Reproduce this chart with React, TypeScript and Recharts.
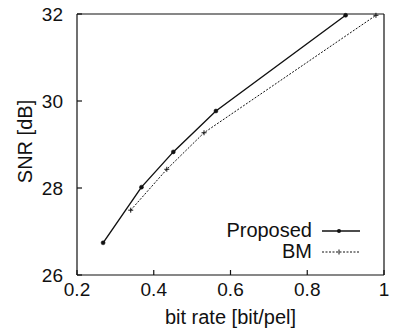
import { LineChart, Line, XAxis, YAxis, Legend } from "recharts";

const proposedRate = [0.268, 0.368, 0.451, 0.562, 0.9];
const proposedSnr = [26.74, 28.02, 28.83, 29.77, 31.97];
const bmRate = [0.34, 0.434, 0.531, 0.979];
const bmSnr = [27.49, 28.43, 29.27, 31.97];

const xTicks = [0.2, 0.4, 0.6, 0.8, 1];
const yTicks = [26, 28, 30, 32];
const seriesNames = ["Proposed", "BM"];

const ink = "#111";
const font = "'Liberation Sans', Arial, Helvetica, sans-serif";

const proposedData = proposedRate.map((rate, i) => ({ rate, snr: proposedSnr[i] }));
const bmData = bmRate.map((rate, i) => ({ rate, snr: bmSnr[i] }));

function fmtX(v: number): string {
  return v === 1 ? "1" : v.toFixed(1);
}

function PlusDot(props: any) {
  const { cx, cy } = props;
  if (cx == null || cy == null) return null;
  return (
    <g stroke={ink} strokeWidth={1}>
      <line x1={cx - 2.5} y1={cy} x2={cx + 2.5} y2={cy} />
      <line x1={cx} y1={cy - 2.5} x2={cx} y2={cy + 2.5} />
    </g>
  );
}

function KeyContent() {
  const row = { display: "flex", alignItems: "center", justifyContent: "flex-end", height: 21 } as const;
  return (
    <div style={{ fontFamily: font, fontSize: 20, color: ink, lineHeight: "21px" }}>
      <div style={row}>
        <span>{seriesNames[0]}</span>
        <svg width={38} height={10} style={{ marginLeft: 10 }}>
          <line x1={0} y1={5} x2={38} y2={5} stroke={ink} strokeWidth={1.4} />
          <circle cx={17} cy={5} r={2} fill={ink} />
        </svg>
      </div>
      <div style={row}>
        <span>{seriesNames[1]}</span>
        <svg width={38} height={10} style={{ marginLeft: 10 }}>
          <line x1={0} y1={5} x2={38} y2={5} stroke={ink} strokeWidth={1} strokeDasharray="2 1.5" />
          <line x1={17} y1={2.5} x2={17} y2={7.5} stroke={ink} strokeWidth={1} />
        </svg>
      </div>
    </div>
  );
}

export default function App() {
  const tickStyle = { fontSize: 19, fill: ink, fontFamily: font };
  return (
    <div style={{ position: "absolute", left: 0, top: 0, background: "#fff" }}>
      <LineChart width={394} height={328} margin={{ top: 0, right: 0, bottom: 0, left: 0 }}>
        <XAxis
          dataKey="rate"
          type="number"
          domain={[0.2, 1]}
          ticks={xTicks}
          tickFormatter={fmtX}
          height={53}
          tickSize={-5}
          tickMargin={13}
          tick={tickStyle}
          stroke={ink}
          strokeWidth={1.2}
          label={{
            value: "bit rate [bit/pel]",
            position: "insideBottom",
            offset: 4,
            style: { fontSize: 20, fill: ink, fontFamily: font },
          }}
        />
        <XAxis
          xAxisId="top"
          orientation="top"
          dataKey="rate"
          type="number"
          domain={[0.2, 1]}
          ticks={[0.4, 0.6, 0.8]}
          tickFormatter={() => ""}
          height={14}
          tickSize={-5}
          stroke={ink}
          strokeWidth={1.2}
        />
        <YAxis
          type="number"
          domain={[26, 32]}
          ticks={yTicks}
          width={77}
          tickSize={-5}
          tickMargin={19}
          tick={tickStyle}
          stroke={ink}
          strokeWidth={1.2}
          label={{
            value: "SNR [dB]",
            angle: -90,
            position: "center",
            dx: -14,
            dy: -3,
            style: { fontSize: 20, fill: ink, fontFamily: font },
          }}
        />
        <YAxis
          yAxisId="r"
          orientation="right"
          type="number"
          domain={[26, 32]}
          ticks={[28, 30]}
          tickFormatter={() => ""}
          width={10}
          tickSize={-5}
          stroke={ink}
          strokeWidth={1.2}
        />
        <Legend
          layout="vertical"
          align="center"
          verticalAlign="middle"
          wrapperStyle={{ top: 220, left: 150, width: 210 }}
          content={<KeyContent />}
        />
        <Line
          data={proposedData}
          dataKey="snr"
          name={seriesNames[0]}
          type="linear"
          stroke={ink}
          strokeWidth={1.4}
          dot={{ r: 2, fill: ink, stroke: ink, strokeWidth: 0.5 }}
          isAnimationActive={false}
        />
        <Line
          data={bmData}
          dataKey="snr"
          name={seriesNames[1]}
          type="linear"
          stroke={ink}
          strokeWidth={1}
          strokeDasharray="2 1.5"
          dot={<PlusDot />}
          isAnimationActive={false}
        />
      </LineChart>
    </div>
  );
}
